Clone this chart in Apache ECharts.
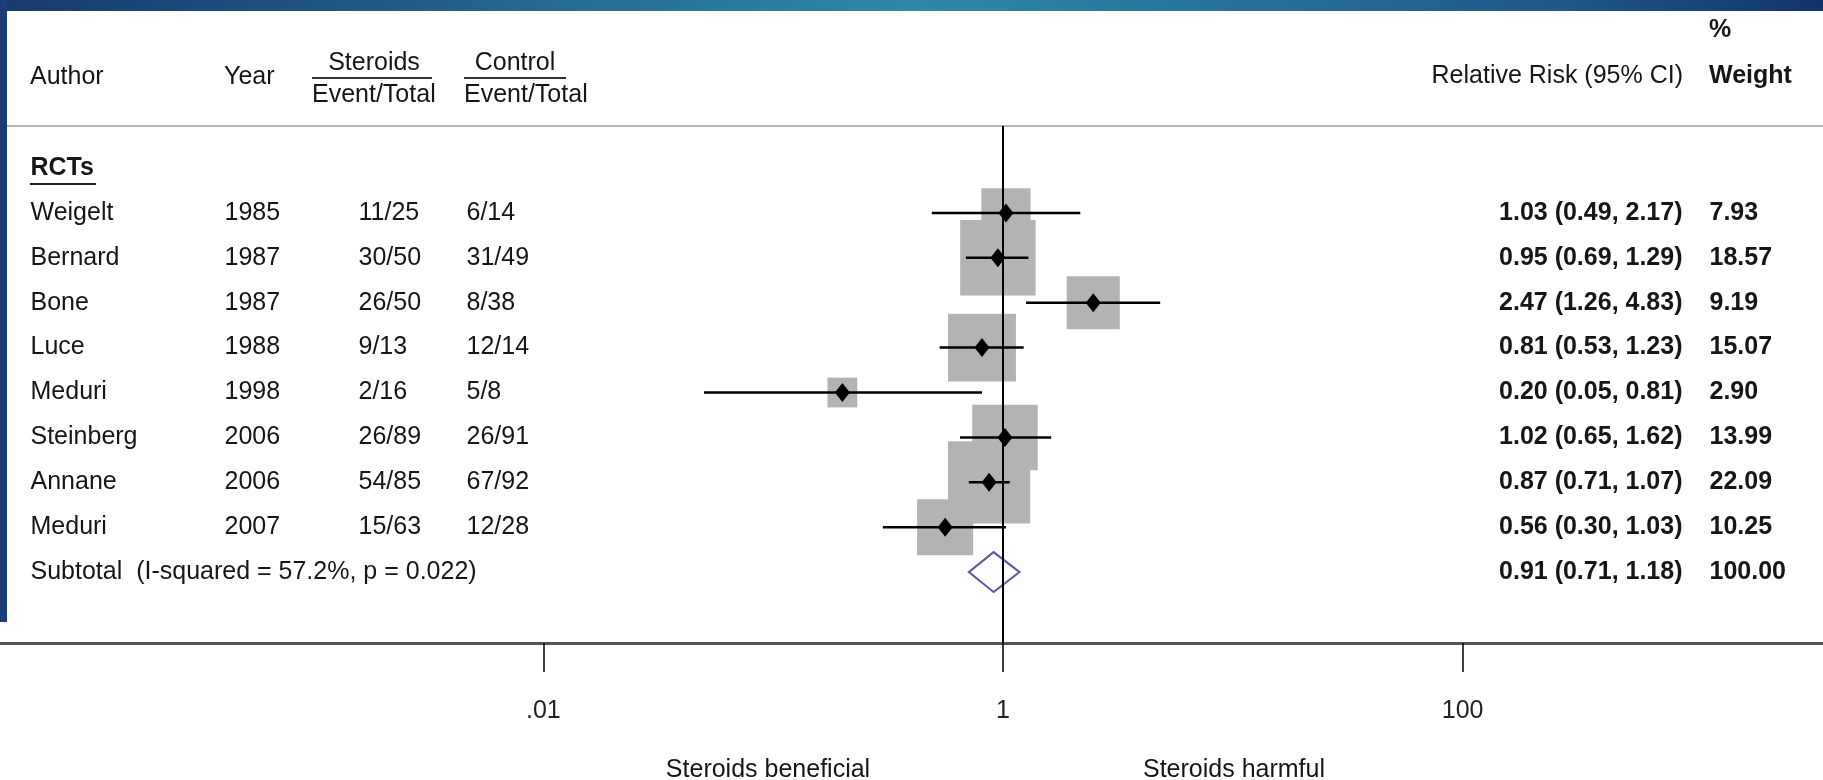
<!DOCTYPE html>
<html>
<head>
<meta charset="utf-8">
<script src="https://cdn.jsdelivr.net/npm/echarts@6/dist/echarts.min.js"></script>
<style>
  html, body { margin: 0; padding: 0; background: #fff; }
  #main { width: 1823px; height: 780px; }
</style>
</head>
<body>
<div id="main"></div>
<script>
// study data
var authors = ['Weigelt', 'Bernard', 'Bone', 'Luce', 'Meduri', 'Steinberg', 'Annane', 'Meduri'];
var years = ['1985', '1987', '1987', '1988', '1998', '2006', '2006', '2007'];
var steroidEvents = ['11/25', '30/50', '26/50', '9/13', '2/16', '26/89', '54/85', '15/63'];
var controlEvents = ['6/14', '31/49', '8/38', '12/14', '5/8', '26/91', '67/92', '12/28'];
var rr = [1.03, 0.95, 2.47, 0.81, 0.20, 1.02, 0.87, 0.56];
var ciLow = [0.49, 0.69, 1.26, 0.53, 0.05, 0.65, 0.71, 0.30];
var ciHigh = [2.17, 1.29, 4.83, 1.23, 0.81, 1.62, 1.07, 1.03];
var weights = [7.93, 18.57, 9.19, 15.07, 2.90, 13.99, 22.09, 10.25];

var pooledRR = 0.91;
var pooledLow = 0.71;
var pooledHigh = 1.18;
var pooledWeight = 100.00;
var groupLabel = 'RCTs';
var subtotalLabel = 'Subtotal  (I-squared = 57.2%, p = 0.022)';

var axisTicks = [0.01, 1, 100];
var axisTickLabels = ['.01', '1', '100'];

// layout
var W = 1823;
var font = "'Liberation Sans', Arial, sans-serif";
var textColor = '#161616';
var fs = 25;
var firstRowY = 168, rowPx = 44.9, gridTop = 126, axisY = 643;
var onePx = 1003, decadePx = 229.8;

var studyRows = authors.map(function (a, i) { return i + 1; });
var subtotalRow = authors.length + 1;

function fmt2(v) { return v.toFixed(2); }
var rrText = rr.map(function (v, i) {
  return fmt2(v) + ' (' + fmt2(ciLow[i]) + ', ' + fmt2(ciHigh[i]) + ')';
});
var weightText = weights.map(fmt2);

// text column drawn as labels on a pixel x axis, rows on the shared y axis
function textCol(x, rows, texts, align, weight) {
  return {
    type: 'scatter', xAxisIndex: 1, yAxisIndex: 0, silent: true, z: 6,
    symbolSize: 1, itemStyle: { color: 'transparent', opacity: 1 },
    data: rows.map(function (r, i) { return { name: texts[i], value: [x, r] }; }),
    label: {
      show: true, position: align === 'right' ? 'left' : 'right', distance: 0,
      formatter: function (p) { return p.name; },
      color: textColor, fontSize: fs, fontFamily: font, fontWeight: weight || 'normal'
    }
  };
}

function hText(text, x, y, align, weight) {
  return {
    type: 'text', x: x, y: y, z: 10, silent: true,
    style: { text: text, fill: textColor, fontSize: fs, fontFamily: font,
      fontWeight: weight || 'normal', align: align || 'left', verticalAlign: 'middle' }
  };
}
function hLine(x1, x2, y, color, w) {
  return { type: 'line', z: 10, silent: true,
    shape: { x1: x1, y1: y, x2: x2, y2: y }, style: { stroke: color, lineWidth: w } };
}

var chart = echarts.init(document.getElementById('main'));

var option = {
  animation: false,
  backgroundColor: '#fff',
  grid: { left: 0, right: 0, top: gridTop, bottom: 780 - axisY },
  xAxis: [
    {
      type: 'value',
      min: -onePx / decadePx,
      max: (W - onePx) / decadePx,
      position: 'bottom',
      splitLine: { show: false },
      axisLine: { onZero: false, lineStyle: { color: '#555', width: 3 } },
      axisTick: {
        customValues: axisTicks.map(Math.log10),
        length: 29, lineStyle: { color: '#000', width: 1.5 }
      },
      axisLabel: {
        customValues: axisTicks.map(Math.log10),
        margin: 56, color: '#222', fontSize: fs, fontFamily: font,
        formatter: function (v) {
          var i = axisTicks.map(Math.log10).indexOf(v);
          return i >= 0 ? axisTickLabels[i] : '';
        }
      }
    },
    {
      // pixel axis for the text table; its line is the header rule
      type: 'value', min: 0, max: W, position: 'top',
      splitLine: { show: false }, axisTick: { show: false }, axisLabel: { show: false },
      axisLine: { onZero: false, lineStyle: { color: '#b5b5b5', width: 2 } }
    }
  ],
  yAxis: {
    type: 'value', inverse: true, show: false,
    min: (gridTop - firstRowY) / rowPx,
    max: (axisY - firstRowY) / rowPx,
    axisLine: { onZero: false }
  },
  series: [
    {
      // reference line at RR = 1
      type: 'line', data: [], z: 1,
      markLine: {
        silent: true, symbol: 'none', label: { show: false },
        lineStyle: { color: '#000', width: 2, type: 'solid' },
        data: [{ xAxis: 0 }]
      }
    },
    {
      // weight boxes
      type: 'scatter', z: 2, silent: true,
      symbol: 'rect',
      symbolSize: function (v) { return 17.5 * Math.sqrt(v[2]); },
      itemStyle: { color: '#b3b3b3', opacity: 1 },
      data: studyRows.map(function (r, i) { return [Math.log10(rr[i]), r, weights[i]]; })
    },
    {
      // confidence intervals
      type: 'custom', z: 3, silent: true,
      encode: { x: [0, 1], y: 2 },
      data: studyRows.map(function (r, i) { return [Math.log10(ciLow[i]), Math.log10(ciHigh[i]), r]; }),
      renderItem: function (params, api) {
        var a = api.coord([api.value(0), api.value(2)]);
        var b = api.coord([api.value(1), api.value(2)]);
        return { type: 'line', shape: { x1: a[0], y1: a[1], x2: b[0], y2: b[1] },
          style: { stroke: '#000', lineWidth: 2.5 } };
      }
    },
    {
      // point estimates
      type: 'scatter', z: 4, silent: true,
      symbol: 'diamond', symbolSize: [15, 19],
      itemStyle: { color: '#000', opacity: 1 },
      data: studyRows.map(function (r, i) { return [Math.log10(rr[i]), r]; })
    },
    {
      // pooled estimate diamond
      type: 'custom', z: 4, silent: true,
      encode: { x: [0, 1, 2], y: 3 },
      data: [[Math.log10(pooledLow), Math.log10(pooledRR), Math.log10(pooledHigh), subtotalRow]],
      renderItem: function (params, api) {
        var row = api.value(3);
        var l = api.coord([api.value(0), row]);
        var c = api.coord([api.value(1), row]);
        var h = api.coord([api.value(2), row]);
        var half = 20;
        return { type: 'polygon',
          shape: { points: [[l[0], l[1]], [c[0], c[1] - half], [h[0], h[1]], [c[0], c[1] + half]] },
          style: { fill: 'none', stroke: '#5a5aa6', lineWidth: 2 } };
      }
    },
    textCol(30, [0], [groupLabel], 'left', 'bold'),
    textCol(30, studyRows, authors, 'left'),
    textCol(224, studyRows, years, 'left'),
    textCol(358, studyRows, steroidEvents, 'left'),
    textCol(466, studyRows, controlEvents, 'left'),
    textCol(30, [subtotalRow], [subtotalLabel], 'left'),
    textCol(1683, studyRows.concat([subtotalRow]),
      rrText.concat([fmt2(pooledRR) + ' (' + fmt2(pooledLow) + ', ' + fmt2(pooledHigh) + ')']), 'right', 'bold'),
    textCol(1709, studyRows.concat([subtotalRow]), weightText.concat([fmt2(pooledWeight)]), 'left', 'bold')
  ],
  graphic: [
    {
      type: 'rect', z: 20, silent: true, shape: { x: 0, y: 0, width: W, height: 11 },
      style: { fill: new echarts.graphic.LinearGradient(0, 0, 1, 0, [
        { offset: 0, color: '#163a6c' }, { offset: 0.5, color: '#2f89a7' },
        { offset: 0.85, color: '#1f5a8a' }, { offset: 1, color: '#123468' }]) }
    },
    { type: 'rect', z: 20, silent: true, shape: { x: 0, y: 0, width: 7, height: 622 },
      style: { fill: '#1b3d78' } },
    hText('Author', 30, 77),
    hText('Year', 224, 77),
    hText('Steroids', 374, 63, 'center'),
    hLine(312, 432, 78, '#333', 2),
    hText('Event/Total', 312, 95),
    hText('Control', 515, 63, 'center'),
    hLine(464, 566, 78, '#333', 2),
    hText('Event/Total', 464, 95),
    hText('Relative Risk (95% CI)', 1683, 76, 'right'),
    hText('%', 1709, 30, 'left', 'bold'),
    hText('Weight', 1709, 76, 'left', 'bold'),
    hLine(30, 96, 184, '#222', 2),
    hText('Steroids beneficial', 768, 770, 'center'),
    hText('Steroids harmful', 1234, 770, 'center')
  ]
};

chart.setOption(option);
</script>
</body>
</html>
